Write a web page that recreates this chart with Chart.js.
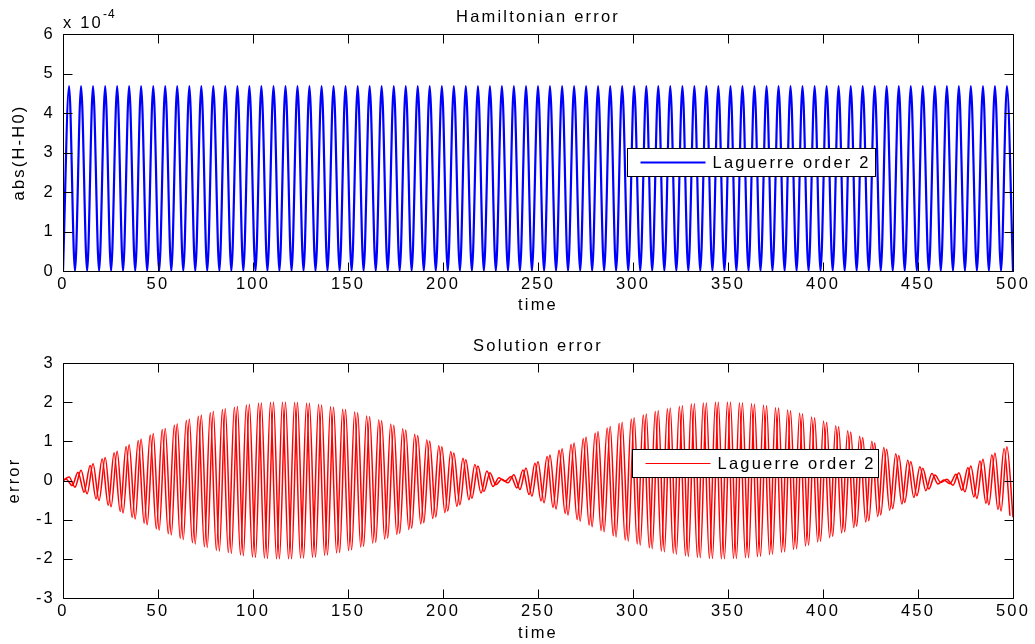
<!DOCTYPE html>
<html>
<head>
<meta charset="utf-8">
<script src="https://cdn.jsdelivr.net/npm/chart.js@4.4.0/dist/chart.umd.min.js"></script>
<style>
  body { margin: 0; background: #fff; }
  .panel { position: absolute; left: 0; width: 1035px; height: 322px; }
</style>
</head>
<body>
<div class="panel" style="top:0"><canvas id="hamChart"></canvas></div>
<div class="panel" style="top:322px"><canvas id="solChart"></canvas></div>
<script>
// tick labels
const timeTicks = [0, 50, 100, 150, 200, 250, 300, 350, 400, 450, 500];
const hamTicks = [0, 1, 2, 3, 4, 5, 6];          // x 10^-4
const solTicks = [-3, -2, -1, 0, 1, 2, 3];

// times of the turning points
const times = [
  0, 3.2, 6.3, 9.5, 12.7, 15.8, 19.0, 22.2, 25.3, 28.5,
  31.6, 34.8, 38.0, 41.1, 44.3, 47.5, 50.6, 53.8, 57.0, 60.1,
  63.3, 66.5, 69.6, 72.8, 75.9, 79.1, 82.3, 85.4, 88.6, 91.8,
  94.9, 98.1, 101.3, 104.4, 107.6, 110.8, 113.9, 117.1, 120.3, 123.4,
  126.6, 129.7, 132.9, 136.1, 139.2, 142.4, 145.6, 148.7, 151.9, 155.1,
  158.2, 161.4, 164.6, 167.7, 170.9, 174.1, 177.2, 180.4, 183.5, 186.7,
  189.9, 193.0, 196.2, 199.4, 202.5, 205.7, 208.9, 212.0, 215.2, 218.4,
  221.5, 224.7, 227.8, 231.0, 234.2, 237.3, 240.5, 243.7, 246.8, 250.0,
  253.2, 256.3, 259.5, 262.7, 265.8, 269.0, 272.2, 275.3, 278.5, 281.6,
  284.8, 288.0, 291.1, 294.3, 297.5, 300.6, 303.8, 307.0, 310.1, 313.3,
  316.5, 319.6, 322.8, 326.0, 329.1, 332.3, 335.4, 338.6, 341.8, 344.9,
  348.1, 351.3, 354.4, 357.6, 360.8, 363.9, 367.1, 370.3, 373.4, 376.6,
  379.8, 382.9, 386.1, 389.2, 392.4, 395.6, 398.7, 401.9, 405.1, 408.2,
  411.4, 414.6, 417.7, 420.9, 424.1, 427.2, 430.4, 433.5, 436.7, 439.9,
  443.0, 446.2, 449.4, 452.5, 455.7, 458.9, 462.0, 465.2, 468.4, 471.5,
  474.7, 477.8, 481.0, 484.2, 487.3, 490.5, 493.7, 496.8, 500.0
];

// abs(H-H0), in units of 1e-4
const hamError = [
  0, 4.68, 0, 4.68, 0, 4.68, 0, 4.68, 0, 4.68,
  0, 4.68, 0, 4.68, 0, 4.68, 0, 4.68, 0, 4.68,
  0, 4.68, 0, 4.68, 0, 4.68, 0, 4.68, 0, 4.68,
  0, 4.68, 0, 4.68, 0, 4.68, 0, 4.68, 0, 4.68,
  0, 4.68, 0, 4.68, 0, 4.68, 0, 4.68, 0, 4.68,
  0, 4.68, 0, 4.68, 0, 4.68, 0, 4.68, 0, 4.68,
  0, 4.68, 0, 4.68, 0, 4.68, 0, 4.68, 0, 4.68,
  0, 4.68, 0, 4.68, 0, 4.68, 0, 4.68, 0, 4.68,
  0, 4.68, 0, 4.68, 0, 4.68, 0, 4.68, 0, 4.68,
  0, 4.68, 0, 4.68, 0, 4.68, 0, 4.68, 0, 4.68,
  0, 4.68, 0, 4.68, 0, 4.68, 0, 4.68, 0, 4.68,
  0, 4.68, 0, 4.68, 0, 4.68, 0, 4.68, 0, 4.68,
  0, 4.68, 0, 4.68, 0, 4.68, 0, 4.68, 0, 4.68,
  0, 4.68, 0, 4.68, 0, 4.68, 0, 4.68, 0, 4.68,
  0, 4.68, 0, 4.68, 0, 4.68, 0, 4.68, 0, 4.68,
  0, 4.68, 0, 4.68, 0, 4.68, 0, 4.68, 0
];

// solution error, first component (turning points at `times`)
const solError = [
  0, 0.09, -0.17, 0.26, -0.34, 0.43, -0.51, 0.59, -0.67, 0.75,
  -0.83, 0.91, -0.98, 1.06, -1.13, 1.20, -1.27, 1.33, -1.39, 1.45,
  -1.51, 1.57, -1.62, 1.67, -1.71, 1.76, -1.80, 1.83, -1.86, 1.89,
  -1.92, 1.94, -1.96, 1.98, -1.99, 2.00, -2.00, 2.00, -2.00, 1.99,
  -1.98, 1.97, -1.95, 1.93, -1.90, 1.87, -1.84, 1.81, -1.77, 1.73,
  -1.68, 1.63, -1.58, 1.53, -1.47, 1.41, -1.35, 1.29, -1.22, 1.15,
  -1.08, 1.01, -0.93, 0.86, -0.78, 0.70, -0.62, 0.53, -0.45, 0.37,
  -0.28, 0.20, -0.11, 0.03, -0.06, 0.15, -0.23, 0.32, -0.40, 0.48,
  -0.57, 0.65, -0.73, 0.81, -0.88, 0.96, -1.04, 1.11, -1.18, 1.25,
  -1.31, 1.38, -1.44, 1.49, -1.55, 1.60, -1.65, 1.70, -1.74, 1.78,
  -1.82, 1.85, -1.88, 1.91, -1.94, 1.96, -1.97, 1.98, -1.99, 2.00,
  -2.00, 2.00, -1.99, 1.98, -1.97, 1.95, -1.93, 1.91, -1.88, 1.85,
  -1.82, 1.78, -1.74, 1.70, -1.65, 1.60, -1.55, 1.49, -1.43, 1.37,
  -1.31, 1.24, -1.17, 1.10, -1.03, 0.96, -0.88, 0.80, -0.72, 0.64,
  -0.56, 0.48, -0.39, 0.31, -0.22, 0.14, -0.05, 0.03, -0.12, 0.20,
  -0.29, 0.37, -0.46, 0.54, -0.62, 0.70, -0.78, 0.86, -0.94
];

// second component, a quarter period out of step with the first
const timesB = [
  0, 1.6, 4.8, 7.9, 11.1, 14.3, 17.4, 20.6, 23.8, 26.9, 30.1,
  33.2, 36.4, 39.6, 42.7, 45.9, 49.1, 52.2, 55.4, 58.6, 61.7,
  64.9, 68.1, 71.2, 74.4, 77.5, 80.7, 83.9, 87.0, 90.2, 93.4,
  96.5, 99.7, 102.9, 106.0, 109.2, 112.4, 115.5, 118.7, 121.9, 125.0,
  128.2, 131.3, 134.5, 137.7, 140.8, 144.0, 147.2, 150.3, 153.5, 156.7,
  159.8, 163.0, 166.2, 169.3, 172.5, 175.7, 178.8, 182.0, 185.1, 188.3,
  191.5, 194.6, 197.8, 201.0, 204.1, 207.3, 210.5, 213.6, 216.8, 220.0,
  223.1, 226.3, 229.4, 232.6, 235.8, 238.9, 242.1, 245.3, 248.4, 251.6,
  254.8, 257.9, 261.1, 264.3, 267.4, 270.6, 273.8, 276.9, 280.1, 283.2,
  286.4, 289.6, 292.7, 295.9, 299.1, 302.2, 305.4, 308.6, 311.7, 314.9,
  318.1, 321.2, 324.4, 327.6, 330.7, 333.9, 337.0, 340.2, 343.4, 346.5,
  349.7, 352.9, 356.0, 359.2, 362.4, 365.5, 368.7, 371.9, 375.0, 378.2,
  381.4, 384.5, 387.7, 390.8, 394.0, 397.2, 400.3, 403.5, 406.7, 409.8,
  413.0, 416.2, 419.3, 422.5, 425.7, 428.8, 432.0, 435.1, 438.3, 441.5,
  444.6, 447.8, 451.0, 454.1, 457.3, 460.5, 463.6, 466.8, 470.0, 473.1,
  476.3, 479.4, 482.6, 485.8, 488.9, 492.1, 495.3, 498.4
];
const solErrorB = [
  0, 0.04, -0.13, 0.21, -0.30, 0.38, -0.47, 0.55, -0.63, 0.71, -0.79,
  0.87, -0.94, 1.02, -1.09, 1.16, -1.23, 1.30, -1.36, 1.42, -1.48,
  1.54, -1.59, 1.64, -1.69, 1.73, -1.78, 1.81, -1.84, 1.87, -1.90,
  1.93, -1.95, 1.97, -1.98, 1.99, -2.00, 2.00, -2.00, 1.99, -1.98,
  1.97, -1.96, 1.94, -1.91, 1.88, -1.85, 1.82, -1.79, 1.75, -1.70,
  1.65, -1.60, 1.55, -1.50, 1.44, -1.38, 1.32, -1.25, 1.18, -1.11,
  1.04, -0.97, 0.89, -0.82, 0.74, -0.66, 0.57, -0.49, 0.41, -0.32,
  0.24, -0.15, 0.07, -0.02, 0.10, -0.19, 0.27, -0.36, 0.44, -0.52,
  0.61, -0.69, 0.77, -0.84, 0.92, -1.00, 1.07, -1.14, 1.21, -1.28,
  1.34, -1.41, 1.46, -1.52, 1.57, -1.62, 1.67, -1.72, 1.76, -1.80,
  1.83, -1.86, 1.89, -1.92, 1.95, -1.96, 1.98, -1.99, 2.00, -2.00,
  2.00, -1.99, 1.98, -1.97, 1.96, -1.94, 1.92, -1.89, 1.86, -1.83,
  1.80, -1.76, 1.72, -1.67, 1.62, -1.57, 1.52, -1.46, 1.40, -1.34,
  1.27, -1.20, 1.13, -1.06, 1.00, -0.92, 0.84, -0.76, 0.68, -0.60,
  0.52, -0.43, 0.35, -0.26, 0.18, -0.09, 0.01, -0.08, 0.16, -0.25,
  0.33, -0.42, 0.50, -0.58, 0.66, -0.74, 0.82, -0.90
];

const FONT = "'Liberation Sans', Arial, sans-serif";
const SPACING = '2.2px';
const FSIZE = 16.5;

// matlab style box, inward ticks, title, legend
const matlabAxes = {
  id: 'matlabAxes',
  beforeDraw(chart) {
    chart.ctx.letterSpacing = SPACING;
  },
  afterDatasetsDraw(chart, args, o) {
    const { ctx, chartArea: a, scales } = chart;
    const L = Math.round(a.left) + 0.5, R = Math.round(a.right) + 0.5;
    const T = Math.round(a.top) + 0.5, B = Math.round(a.bottom) + 0.5;
    const len = 9;
    ctx.save();
    ctx.strokeStyle = '#000';
    ctx.lineWidth = 1;
    ctx.beginPath();
    ctx.rect(L, T, R - L, B - T);
    scales.x.ticks.forEach(t => {
      const px = Math.round(scales.x.getPixelForValue(t.value)) + 0.5;
      ctx.moveTo(px, B); ctx.lineTo(px, B - len);
      ctx.moveTo(px, T); ctx.lineTo(px, T + len);
    });
    scales.y.ticks.forEach(t => {
      const py = Math.round(scales.y.getPixelForValue(t.value)) + 0.5;
      ctx.moveTo(L, py); ctx.lineTo(L + len, py);
      ctx.moveTo(R, py); ctx.lineTo(R - len, py);
    });
    ctx.stroke();

    ctx.letterSpacing = SPACING;
    ctx.fillStyle = '#000';
    ctx.textBaseline = 'middle';
    ctx.textAlign = 'center';
    ctx.font = FSIZE + 'px ' + FONT;
    ctx.fillText(o.title, (a.left + a.right) / 2, o.titleY);

    if (o.exponent) {
      ctx.textAlign = 'left';
      ctx.fillText('x 10', a.left, a.top - 11);
      ctx.font = '12px ' + FONT;
      ctx.letterSpacing = '1px';
      ctx.fillText(o.exponent, a.left + 40, a.top - 19);
    }

    // legend
    const lg = o.legend;
    const bx = Math.round(a.left + lg.dx) + 0.5, by = Math.round(a.top + lg.dy) + 0.5;
    ctx.fillStyle = '#fff';
    ctx.fillRect(bx, by, lg.w, lg.h);
    ctx.strokeStyle = '#000';
    ctx.lineWidth = 1;
    ctx.strokeRect(bx, by, lg.w, lg.h);
    ctx.strokeStyle = lg.color;
    ctx.lineWidth = lg.lineWidth;
    ctx.beginPath();
    ctx.moveTo(bx + 13, by + lg.h / 2);
    ctx.lineTo(bx + 78, by + lg.h / 2);
    ctx.stroke();
    ctx.fillStyle = '#000';
    ctx.font = FSIZE + 'px ' + FONT;
    ctx.letterSpacing = SPACING;
    ctx.textAlign = 'left';
    ctx.fillText(lg.text, bx + 85, by + lg.h / 2 + 1);
    ctx.restore();
  }
};

Chart.defaults.font.family = FONT;
Chart.defaults.font.size = FSIZE;
Chart.defaults.color = '#000';

function xAxis(height, titlePad) {
  return {
    type: 'linear', min: 0, max: 500,
    afterBuildTicks: s => { s.ticks = timeTicks.map(v => ({ value: v })); },
    afterFit: s => { s.height = height; },
    grid: { display: false, drawTicks: false },
    border: { display: false },
    ticks: { padding: 4, maxRotation: 0, autoSkip: false },
    title: { display: true, text: 'time', padding: { top: 0, bottom: titlePad } }
  };
}

function yAxis(ticks, label, titlePad) {
  return {
    min: ticks[0], max: ticks[ticks.length - 1],
    afterBuildTicks: s => { s.ticks = ticks.map(v => ({ value: v })); },
    afterFit: s => { s.width = 63; },
    grid: { display: false, drawTicks: false },
    border: { display: false },
    ticks: { padding: 8, autoSkip: false },
    title: { display: true, text: label, padding: { top: titlePad, bottom: 0 } }
  };
}

new Chart(document.getElementById('hamChart'), {
  type: 'line',
  data: {
    datasets: [{
      label: 'Laguerre order 2',
      data: times.map((t, i) => ({ x: t, y: hamError[i] })),
      borderColor: '#0000ff',
      borderWidth: 2.2,
      pointRadius: 0,
      cubicInterpolationMode: 'monotone'
    }]
  },
  options: {
    responsive: true,
    maintainAspectRatio: false,
    animation: false,
    layout: { padding: { left: 0, right: 22, top: 34, bottom: 0 } },
    scales: { x: xAxis(51, 7), y: yAxis(hamTicks, 'abs(H-H0)', 10) },
    plugins: {
      legend: { display: false },
      tooltip: { enabled: false },
      matlabAxes: {
        title: 'Hamiltonian error', titleY: 17, exponent: '-4',
        legend: { text: 'Laguerre order 2', color: '#0000ff', lineWidth: 2, dx: 564, dy: 114, w: 248, h: 28 }
      }
    }
  },
  plugins: [matlabAxes]
});

new Chart(document.getElementById('solChart'), {
  type: 'line',
  data: {
    datasets: [{
      label: 'Laguerre order 2',
      data: times.map((t, i) => ({ x: t, y: solError[i] })),
      borderColor: '#ff0000',
      borderWidth: 1.5,
      pointRadius: 0,
      cubicInterpolationMode: 'monotone'
    }, {
      data: timesB.map((t, i) => ({ x: t, y: solErrorB[i] })),
      borderColor: '#ff0000',
      borderWidth: 1.5,
      pointRadius: 0,
      cubicInterpolationMode: 'monotone'
    }]
  },
  options: {
    responsive: true,
    maintainAspectRatio: false,
    animation: false,
    layout: { padding: { left: 0, right: 22, top: 41, bottom: 0 } },
    scales: { x: xAxis(46, 1), y: yAxis(solTicks, 'error', 5) },
    plugins: {
      legend: { display: false },
      tooltip: { enabled: false },
      matlabAxes: {
        title: 'Solution error', titleY: 24,
        legend: { text: 'Laguerre order 2', color: '#ff0000', lineWidth: 1, dx: 569, dy: 86, w: 246, h: 28 }
      }
    }
  },
  plugins: [matlabAxes]
});
</script>
</body>
</html>
